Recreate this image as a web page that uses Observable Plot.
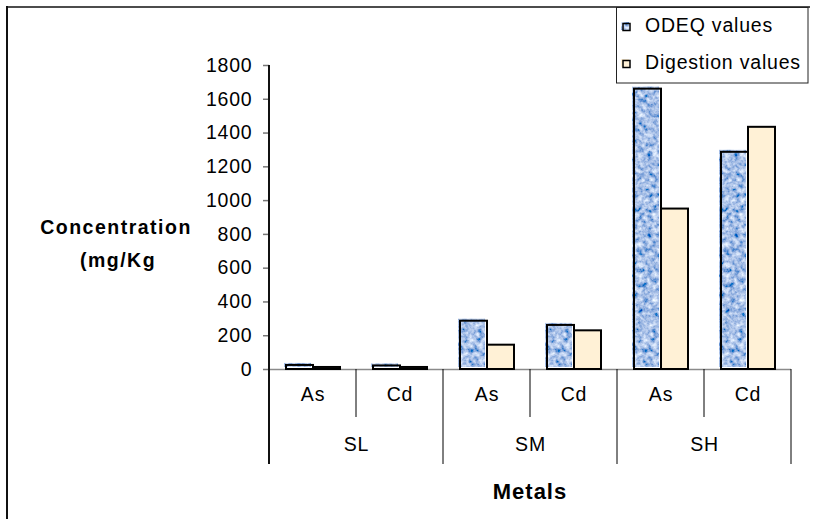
<!DOCTYPE html>
<html>
<head>
<meta charset="utf-8">
<script src="https://cdn.jsdelivr.net/npm/d3@7"></script>
<script src="https://cdn.jsdelivr.net/npm/@observablehq/plot@0.6"></script>
<style>
  body { margin: 0; background: #fff; }
  #chart { position: relative; width: 817px; height: 519px; overflow: hidden; }
</style>
</head>
<body>
<div id="chart"></div>
<script>
// Sites (groups) and the metals measured at each
const groups = ["SL", "SM", "SH"];
const metals = ["As", "Cd"];
const series = ["ODEQ values", "Digestion values"];

// Concentrations (mg/Kg), one per site/metal in the order SL As, SL Cd, SM As, ...
const odeqValues = [24, 21, 286, 261, 1660, 1286];
const digestionValues = [12, 12, 144, 229, 950, 1434];

const yTicks = [0, 200, 400, 600, 800, 1000, 1200, 1400, 1600, 1800];

const keys = groups.flatMap(g => metals.map(m => `${g} ${m}`));
const odeqRows = keys.map((key, i) => ({key, series: series[0], value: odeqValues[i]}));
const digRows = keys.map((key, i) => ({key, series: series[1], value: digestionValues[i]}));

const font = "'Liberation Sans', Arial, sans-serif";

const plot = Plot.plot({
  width: 817,
  height: 519,
  marginLeft: 267,
  marginRight: 24,
  marginTop: 65,
  marginBottom: 150,
  style: {fontFamily: font, fontSize: "19.5px", letterSpacing: "0.8px", color: "#000", background: "#fff"},
  fx: {domain: keys, padding: 0, axis: null, label: null},
  x: {domain: series, paddingInner: 0, paddingOuter: 0.6, axis: null},
  y: {domain: [0, 1800]},
  marks: [
    Plot.ruleY([0], {stroke: "#8a8a8a", strokeWidth: 1.5}),
    Plot.axisY({ticks: yTicks, tickSize: 6, tickPadding: 11, stroke: "#777", strokeWidth: 1.5,
                fill: "#000", label: null, tickFormat: d3.format("d")}),
    // ODEQ bars: textured fill sitting slightly up-left of its outline
    Plot.barY(odeqRows, {fx: "key", x: "series", y: "value", fill: "url(#odeq-tex)", dx: -2, dy: -2}),
    Plot.barY(odeqRows, {fx: "key", x: "series", y: "value", fill: "none", stroke: "#000", strokeWidth: 2}),
    Plot.barY(digRows, {fx: "key", x: "series", y: "value", fill: "#fff1d6", stroke: "#000", strokeWidth: 2}),
    // category axis: metal labels per column, site labels centred under each pair
    Plot.text(keys, {fx: d => d, text: d => d.split(" ")[1], frameAnchor: "bottom", dy: 31}),
    Plot.text(keys.filter(k => k.endsWith("As")), {fx: d => d, text: d => d.split(" ")[0],
              frameAnchor: "bottom-right", dy: 81, textAnchor: "middle"})
  ]
});

document.getElementById("chart").append(plot);

const svg = d3.select(plot);
const fx = plot.scale("fx");
const y = plot.scale("y");
const left = fx.apply(keys[0]);
const right = fx.apply(keys[keys.length - 1]) + fx.bandwidth;
const y0 = y.apply(0);

// mottled blue texture for the ODEQ series
const defs = svg.insert("defs", ":first-child");
const filter = defs.append("filter").attr("id", "mottle")
  .attr("x", 0).attr("y", 0).attr("width", "100%").attr("height", "100%");
filter.append("feTurbulence").attr("type", "fractalNoise").attr("baseFrequency", 0.2)
  .attr("numOctaves", 3).attr("seed", 7);
filter.append("feColorMatrix").attr("type", "matrix").attr("values",
  "1.35 0 0 0 -0.29  1.2 0 0 0 -0.08  0.75 0 0 0 0.42  0 0 0 0 1");
const pat = defs.append("pattern").attr("id", "odeq-tex").attr("patternUnits", "userSpaceOnUse")
  .attr("width", 817).attr("height", 519);
pat.append("rect").attr("width", 817).attr("height", 519).attr("fill", "#6186cc").attr("filter", "url(#mottle)");

const g = svg.append("g");

// outer chart border (left and top edges)
g.append("line").attr("x1", 7).attr("x2", 7).attr("y1", 6).attr("y2", 519).attr("stroke", "#111").attr("stroke-width", 2);
g.append("line").attr("x1", 6).attr("x2", 810).attr("y1", 7).attr("y2", 7).attr("stroke", "#111").attr("stroke-width", 1.5);

// value axis line, continuing down as the first category divider
g.append("line").attr("x1", left).attr("x2", left).attr("y1", y.apply(1800)).attr("y2", y0 + 95)
  .attr("stroke", "#111").attr("stroke-width", 2);

// dividers between metals (short) and between sites (long)
for (const grp of groups) {
  const xm = fx.apply(`${grp} Cd`);
  g.append("line").attr("x1", xm).attr("x2", xm).attr("y1", y0).attr("y2", y0 + 48).attr("stroke", "#000");
}
for (const x of [...groups.slice(1).map(grp => fx.apply(`${grp} As`)), right]) {
  g.append("line").attr("x1", x).attr("x2", x).attr("y1", y0).attr("y2", y0 + 95).attr("stroke", "#000");
}

// axis titles
const title = (txt, x, yy, size, spacing) => g.append("text").text(txt)
  .attr("x", x).attr("y", yy).attr("text-anchor", "middle")
  .attr("font-family", font).attr("font-weight", "bold").attr("font-size", size)
  .attr("letter-spacing", spacing).attr("fill", "#000");
title("Concentration", 116, 234, 19.5, "1.5px");
title("(mg/Kg", 118, 267, 19.5, "1.5px");
title("Metals", (left + right) / 2, 499, 22, "1px");

// legend box in the top-right corner
const lg = svg.append("g").attr("font-family", font).attr("font-size", 19.5)
  .attr("letter-spacing", "0.8px").attr("text-anchor", "start");
lg.append("rect").attr("x", 616.5).attr("y", 7.5).attr("width", 191.5).attr("height", 75.5)
  .attr("fill", "#fff").attr("stroke", "#222").attr("stroke-width", 1);
const entries = [
  {label: series[0], fill: "url(#odeq-tex)", cy: 27, base: 32},
  {label: series[1], fill: "#fff1d6", cy: 64, base: 68.5}
];
for (const e of entries) {
  lg.append("rect").attr("x", 621).attr("y", e.cy - 5).attr("width", 8).attr("height", 8).attr("fill", e.fill);
  lg.append("rect").attr("x", 623).attr("y", e.cy - 3.5).attr("width", 7).attr("height", 7)
    .attr("fill", "none").attr("stroke", "#000").attr("stroke-width", 1.5);
  lg.append("text").attr("x", 645).attr("y", e.base).attr("text-anchor", "start").text(e.label).attr("fill", "#000");
}
</script>
</body>
</html>
